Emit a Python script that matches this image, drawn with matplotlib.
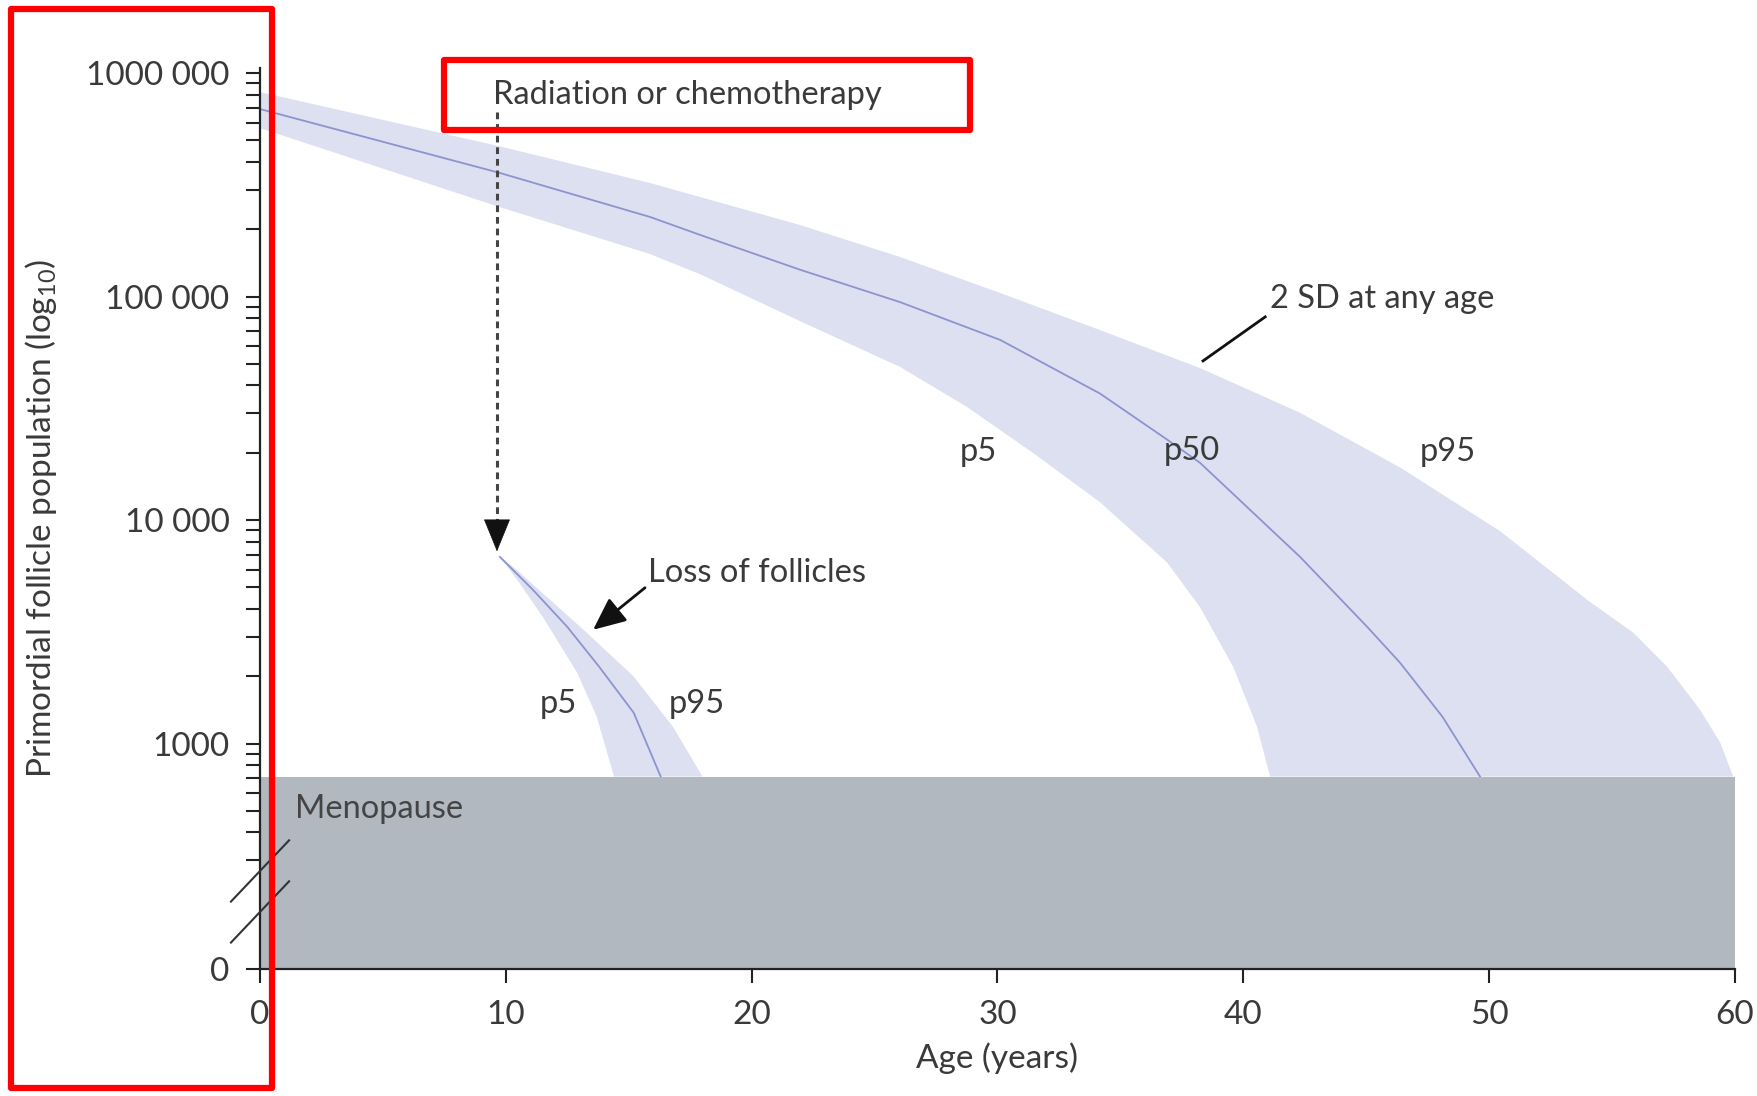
import matplotlib
matplotlib.use("Agg")
import matplotlib.pyplot as plt
from matplotlib.patches import Rectangle
import numpy as np

plt.rcParams['font.family'] = ['Lato', 'DejaVu Sans']
plt.rcParams['mathtext.fontset'] = 'custom'
plt.rcParams['mathtext.rm'] = 'Lato'

# --- data (age in years, log10 of follicle count) ---
p95_age = [0, 9.76, 15.87, 21.97, 26.04, 30.11, 34.17, 38.24, 42.31, 46.38, 50.45, 53.99, 55.86, 57.24, 58.58, 59.4, 59.93]
p95_log = [5.915, 5.672, 5.508, 5.32, 5.177, 5.016, 4.85, 4.68, 4.48, 4.235, 3.95, 3.643, 3.496, 3.344, 3.151, 3.004, 2.852]

p50_age = [0, 9.76, 15.87, 17.9, 21.97, 26.04, 30.11, 34.17, 36.9, 38.24, 42.31, 45.04, 46.38, 48.1, 49.63]
p50_log = [5.839, 5.553, 5.356, 5.276, 5.12, 4.975, 4.806, 4.566, 4.36, 4.256, 3.835, 3.522, 3.361, 3.12, 2.852]

p5_age = [0, 9.76, 15.87, 17.9, 21.97, 26.04, 28.76, 31.45, 34.17, 36.9, 38.24, 39.59, 40.56, 41.09]
p5_log = [5.754, 5.40, 5.19, 5.10, 4.89, 4.685, 4.506, 4.30, 4.08, 3.81, 3.61, 3.343, 3.075, 2.852]

# after radiation / chemotherapy at ~10 years
chemo_p95_age = [9.76, 10.3, 11.8, 13.3, 15.2, 16.8, 18.0]
chemo_p95_log = [3.835, 3.79, 3.643, 3.495, 3.30, 3.075, 2.852]
chemo_p50_age = [9.76, 11.1, 12.5, 13.8, 15.2, 16.3]
chemo_p50_log = [3.835, 3.688, 3.522, 3.343, 3.138, 2.852]
chemo_p5_age = [9.76, 10.46, 11.5, 12.9, 13.7, 14.4]
chemo_p5_log = [3.835, 3.733, 3.567, 3.317, 3.12, 2.852]

menopause_level = 710
chemo_age = 9.64
x_ticks = [0, 10, 20, 30, 40, 50, 60]
y_bottom = 98
y_major = [1e3, 1e4, 1e5, 1e6]
y_labels = ['0', '1000', '10 000', '100 000', '1000 000']

band_col = '#dde0f1'
line_col = '#8b94cf'
grey_col = '#b1b8bf'
txt_col = '#3a3a3a'
fs = 23.5

fig = plt.figure(figsize=(17.58, 10.96), dpi=100)
ax = fig.add_axes([0.1479, 0.1159, 0.839, 0.822])
ax.set_yscale('log')
ax.set_xlim(0, 60)
ax.set_ylim(y_bottom, 1.053e6)


def to_val(l):
    return 10 ** np.array(l)


# main band
bx = np.concatenate([p95_age, p5_age[::-1]])
by = np.concatenate([to_val(p95_log), to_val(p5_log)[::-1]])
ax.fill(bx, by, color=band_col, lw=0, zorder=1)
ax.plot(p50_age, to_val(p50_log), color=line_col, lw=1.3, zorder=2)

# band after treatment
cx = np.concatenate([chemo_p95_age, chemo_p5_age[::-1]])
cy = np.concatenate([to_val(chemo_p95_log), to_val(chemo_p5_log)[::-1]])
ax.fill(cx, cy, color=band_col, lw=0, zorder=1)
ax.plot(chemo_p50_age, to_val(chemo_p50_log), color=line_col, lw=1.3, zorder=2)

# menopause zone
ax.axhspan(y_bottom, menopause_level, color=grey_col, lw=0, zorder=3)

# axes styling
for s in ['top', 'right']:
    ax.spines[s].set_visible(False)
for s in ['left', 'bottom']:
    ax.spines[s].set_color('#222222')
    ax.spines[s].set_linewidth(1.6)
    ax.spines[s].set_zorder(5)

ax.set_xticks(x_ticks)
ax.set_xticklabels([str(v) for v in x_ticks])
ax.set_yticks([y_bottom] + y_major)
ax.set_yticklabels(y_labels)
minors = [m * 10 ** k for k in range(2, 6) for m in range(2, 10) if m * 10 ** k > 250]
ax.yaxis.set_minor_locator(matplotlib.ticker.FixedLocator(minors))
ax.yaxis.set_minor_formatter(matplotlib.ticker.NullFormatter())
ax.tick_params(axis='both', which='both', direction='out', length=10, width=1.5,
               color='#222222', labelsize=24, labelcolor=txt_col, pad=12)

ax.set_xlabel('Age (years)', fontsize=24, color=txt_col)
ax.xaxis.set_label_coords(0.5, -0.082)
ax.set_ylabel('Primordial follicle population (log$_\\mathregular{10}$)', fontsize=24, color=txt_col)
ax.yaxis.set_label_coords(-0.136, 0.5)

# axis break marks
for yc in [0.1088, 0.0633]:
    ax.plot([-0.0197, 0.0197], [yc - 0.034, yc + 0.034], transform=ax.transAxes,
            color='#333333', lw=1.5, clip_on=False, zorder=6)

# annotations
ax.plot([chemo_age, chemo_age], [10 ** 5.826, 10 ** 3.98], color='#444444', lw=2.2,
        linestyle=(0, (2.2, 1.6)), zorder=4)
ax.annotate('', xy=(chemo_age, 10 ** 3.86), xytext=(chemo_age, 10 ** 3.97),
            arrowprops=dict(arrowstyle='-|>,head_length=1.1,head_width=0.45',
                            color='#111111', lw=0.5, shrinkA=0, shrinkB=0, mutation_scale=20), zorder=4)
ax.text(9.48, 10 ** 5.902, 'Radiation or chemotherapy', fontsize=fs, color=txt_col,
        ha='left', va='center', zorder=6)

ax.annotate('', xy=(13.55, 10 ** 3.509), xytext=(15.66, 10 ** 3.697),
            arrowprops=dict(arrowstyle='-|>,head_length=1.0,head_width=0.45',
                            color='#111111', lw=2, shrinkA=0, shrinkB=0, mutation_scale=20), zorder=4)
ax.text(15.79, 10 ** 3.764, 'Loss of follicles', fontsize=fs, color=txt_col, ha='left', va='center')

ax.plot([40.89, 38.36], [10 ** 4.909, 10 ** 4.712], color='#111111', lw=2, zorder=4)
ax.text(41.09, 10 ** 4.989, '2 SD at any age', fontsize=fs, color=txt_col, ha='left', va='center')

ax.text(29.21, 10 ** 4.305, 'p5', fontsize=fs, color=txt_col, ha='center', va='center', zorder=4)
ax.text(37.92, 10 ** 4.309, 'p50', fontsize=fs, color=txt_col, ha='center', va='center', zorder=4)
ax.text(48.33, 10 ** 4.305, 'p95', fontsize=fs, color=txt_col, ha='center', va='center', zorder=4)
ax.text(12.12, 10 ** 3.178, 'p5', fontsize=fs, color=txt_col, ha='center', va='center', zorder=4)
ax.text(17.78, 10 ** 3.178, 'p95', fontsize=fs, color=txt_col, ha='center', va='center', zorder=4)
ax.text(1.42, 10 ** 2.708, 'Menopause', fontsize=fs, color='#444444', ha='left', va='center', zorder=6)

# red highlight boxes
W, H = 1758, 1096
for (x0, y0, x1, y1) in [(11, 9, 272, 1088), (444, 60, 970, 130)]:
    fig.add_artist(Rectangle((x0 / W, 1 - y1 / H), (x1 - x0) / W, (y1 - y0) / H,
                             transform=fig.transFigure, fill=False, ec='#ff0000',
                             lw=4.5, joinstyle='round', zorder=10))

fig.savefig('out.png', dpi=100)
